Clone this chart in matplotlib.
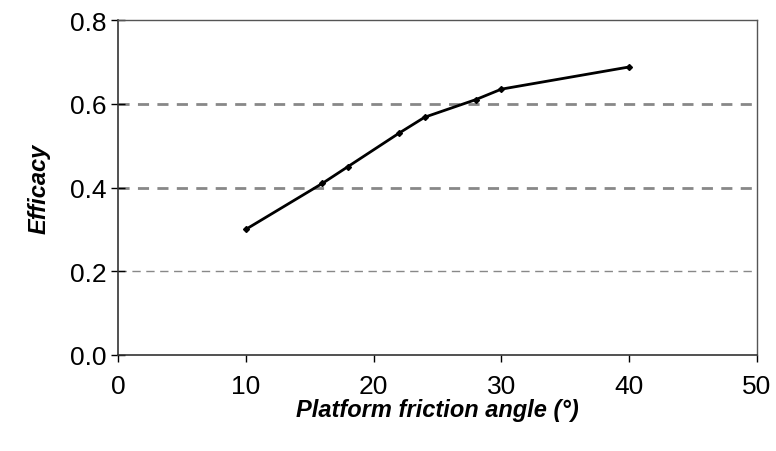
import matplotlib
matplotlib.use("Agg")
import matplotlib.pyplot as plt

angle = [10, 16, 18, 22, 24, 28, 30, 40]
efficacy = [0.30, 0.41, 0.45, 0.53, 0.568, 0.61, 0.635, 0.688]
xticks = [0, 10, 20, 30, 40, 50]
yticks = [0.0, 0.2, 0.4, 0.6, 0.8]

plt.rcParams['font.family'] = ['Liberation Sans', 'DejaVu Sans']
fig = plt.figure(figsize=(7.76, 4.52), dpi=100)
ax = fig.add_axes([0.152, 0.2124, 0.8235, 0.741])

for yv, lw in [(0.2, 1.0), (0.4, 2.0), (0.6, 2.0)]:
    ax.axhline(yv, color='#888888', lw=lw, ls=(0, (4, 3)) if lw > 1.5 else (0, (6, 4)), zorder=1)

ax.plot(angle, efficacy, color='black', lw=2.0, marker='D', ms=3, zorder=3)

ax.set_xlim(0, 50)
ax.set_ylim(0, 0.8)
ax.set_xticks(xticks)
ax.set_yticks(yticks)
ax.set_yticklabels([f"{v:.1f}" for v in yticks])
ax.tick_params(axis='both', labelsize=19, colors='black')
ax.tick_params(axis='y', direction='inout', length=10, width=1, pad=3)
ax.tick_params(axis='x', direction='out', length=5, width=1, pad=9)
for s in ['left', 'bottom']:
    ax.spines[s].set_color('#333333')
    ax.spines[s].set_linewidth(1.2)
for s in ['top', 'right']:
    ax.spines[s].set_color('#555555')
    ax.spines[s].set_linewidth(1.0)
ax.spines['top'].set_linestyle((0, (1, 1)))

ax.set_xlabel('Platform friction angle (°)', fontsize=17, fontweight='bold', style='italic', labelpad=0)
ax.set_ylabel('Efficacy', fontsize=17, fontweight='bold', style='italic', labelpad=14)

fig.savefig('out.png', dpi=100)
